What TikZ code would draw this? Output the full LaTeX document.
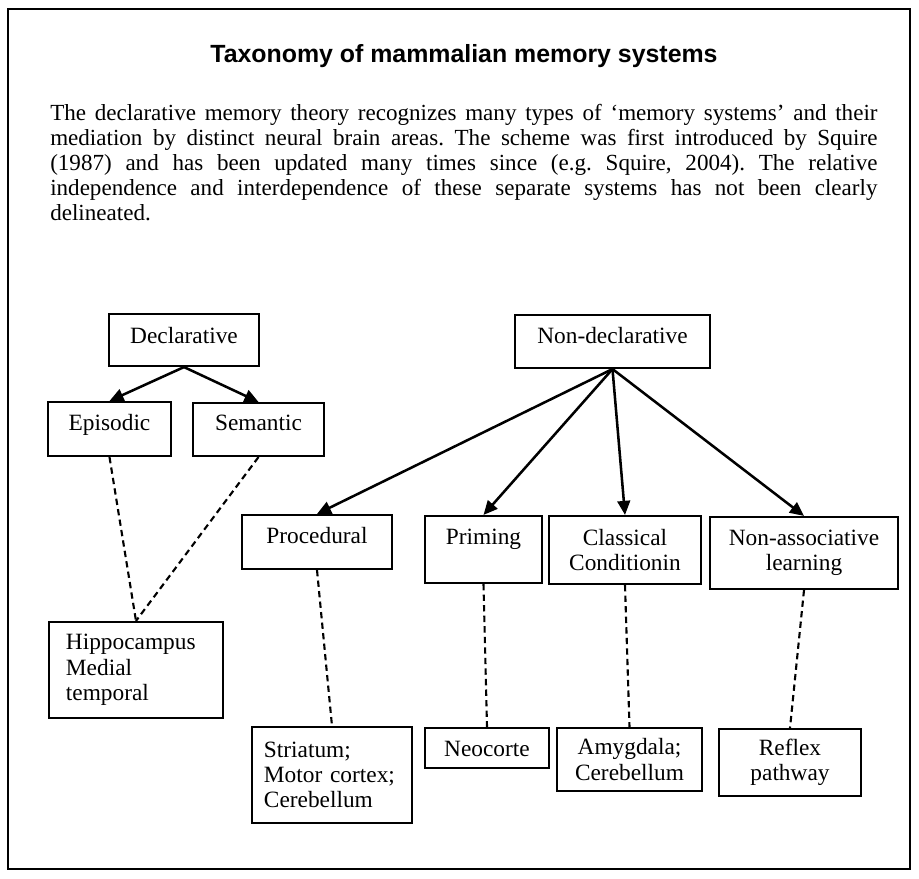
\documentclass[tikz,border=0pt]{standalone}
\usepackage{fontspec}
\setmainfont{Liberation Serif}
\newfontfamily\titulofuente{Liberation Sans}
\usetikzlibrary{arrows.meta}

\begin{document}
\begin{tikzpicture}[x=0.025cm, y=-0.025cm,
  caja/.style={draw, line width=1.5pt, inner sep=0pt, align=center,
    font=\fontsize{16.6}{18}\selectfont},
  linea/.style={text height=11.5pt, text depth=#1},
  flecha/.style={-{Triangle[length=10pt,width=9pt]}, line width=1.8pt},
  enlace/.style={line width=1.5pt, dash pattern=on 4.5pt off 3pt}
]
\fill[white] (0,0) rectangle (919,879);
\useasboundingbox (0,0) rectangle (919,879);
\draw[line width=1.6pt] (8,9) rectangle (910,869);
% Titulo y texto
\node[font=\titulofuente\bfseries\fontsize{17.7}{20}\selectfont] (titulo)
  at (464,56) {Taxonomy of mammalian memory systems};
\node[anchor=north west, inner sep=0pt, text width=20.675cm, align=justify,
  font=\fontsize{16.4}{17.8}\selectfont\frenchspacing] (texto) at (50,104) {\noindent
The declarative memory theory recognizes many types of `memory systems' and their\linebreak
mediation by distinct neural brain areas. The scheme was first introduced by Squire\linebreak
(1987) and has been updated many times since (e.g. Squire, 2004). The relative\linebreak
independence and interdependence of these separate systems has not been clearly\linebreak
delineated.};
% Declarativa
\node[caja, linea=7pt, minimum width=3.75cm, minimum height=1.3cm] (dec) at (184,340) {Declarative};
\node[caja, linea=10pt, minimum width=3.075cm, minimum height=1.35cm] (epi) at (109.5,429) {Episodic};
\node[caja, linea=10pt, minimum width=3.275cm, minimum height=1.325cm] (sem) at (258.5,429.5) {Semantic};
\node[caja, align=left, text width=3.5cm, inner xsep=0.425cm, minimum height=2.4cm] (hip)
  at (136,670) {Hippocampus\\ Medial\\ temporal};
% No declarativa
\node[caja, linea=8pt, minimum width=4.875cm, minimum height=1.325cm] (nd) at (612.5,341.5) {Non-declarative};
\node[caja, linea=10pt, minimum width=3.75cm, minimum height=1.35cm] (pro) at (317,542) {Procedural};
\node[caja, linea=18pt, minimum width=2.925cm, minimum height=1.675cm] (pri) at (483.5,549.5) {Priming};
\node[caja, minimum width=3.8cm, minimum height=1.7cm] (cla) at (625,550) {Classical\\ Conditionin};
\node[caja, minimum width=4.7cm, minimum height=1.8cm] (nas) at (804,553) {Non-associative\\ learning};
% Areas cerebrales
\node[caja, align=left, text width=3.4cm, inner xsep=0.3cm, minimum height=2.4cm] (est)
  at (332,775) {Striatum;\\ Motor cortex;\\ Cerebellum};
\node[caja, linea=0pt, minimum width=3.1cm, minimum height=1cm] (neo) at (487,748) {Neocorte};
\node[caja, minimum width=3.625cm, minimum height=1.575cm] (amy) at (629.5,759.5) {Amygdala;\\ Cerebellum};
\node[caja, minimum width=3.55cm, minimum height=1.675cm] (ref) at (790,762.5) {Reflex\\ pathway};
% Flechas
\draw[flecha] (dec.south) -- (epi.north);
\draw[flecha] (dec.south) -- (sem.north);
\draw[flecha] (nd.south) -- (pro.north);
\draw[flecha] (nd.south) -- (pri.north);
\draw[flecha] (nd.south) -- (cla.north);
\draw[flecha] (nd.south) -- (nas.north);
% Enlaces con las areas
\draw[enlace] (epi.south) -- (hip.north);
\draw[enlace] (sem.south) -- (hip.north);
\draw[enlace] (pro.south) -- (est.north);
\draw[enlace] (pri.south) -- (neo.north);
\draw[enlace] (cla.south) -- (amy.north);
\draw[enlace] (nas.south) -- (ref.north);
\end{tikzpicture}
\end{document}
